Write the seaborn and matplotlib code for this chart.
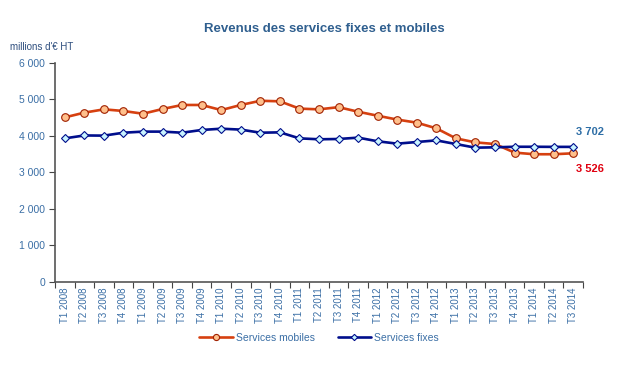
import seaborn as sns
import matplotlib.pyplot as plt
import pandas as pd

# quarterly revenue, millions of euros
quarters = ['T1 2008', 'T2 2008', 'T3 2008', 'T4 2008',
            'T1 2009', 'T2 2009', 'T3 2009', 'T4 2009',
            'T1 2010', 'T2 2010', 'T3 2010', 'T4 2010',
            'T1 2011', 'T2 2011', 'T3 2011', 'T4 2011',
            'T1 2012', 'T2 2012', 'T3 2012', 'T4 2012',
            'T1 2013', 'T2 2013', 'T3 2013', 'T4 2013',
            'T1 2014', 'T2 2014', 'T3 2014']

mobiles = [4510, 4640, 4730, 4685, 4610, 4740, 4850, 4850,
           4710, 4850, 4965, 4950, 4750, 4730, 4790, 4665,
           4555, 4450, 4365, 4210, 3935, 3825, 3780, 3545,
           3500, 3500, 3526]
fixes = [3935, 4015, 4010, 4090, 4120, 4120, 4090, 4165,
         4200, 4175, 4090, 4100, 3935, 3910, 3918, 3955,
         3855, 3790, 3835, 3880, 3780, 3680, 3690, 3705,
         3705, 3702, 3702]

df = pd.DataFrame({'trimestre': quarters, 'mobiles': mobiles, 'fixes': fixes})

sns.set_style('white')
plt.rcParams['font.family'] = ['Liberation Sans', 'DejaVu Sans']

blue_txt = '#3A6EA5'

fig = plt.figure(figsize=(6.21, 3.71), dpi=100)
ax = fig.add_axes([0.0886, 0.2399, 0.8502, 0.5903])

sns.lineplot(data=df, x='trimestre', y='mobiles', ax=ax, color='#D64010', lw=1.9,
             marker='o', markersize=5.5, markerfacecolor='#FFC08C',
             markeredgecolor='#A02000', markeredgewidth=0.8, label='Services mobiles')
sns.lineplot(data=df, x='trimestre', y='fixes', ax=ax, color='#000E8C', lw=1.9,
             marker='D', markersize=4, markerfacecolor='#C8F4FF',
             markeredgecolor='#000E8C', markeredgewidth=0.8, label='Services fixes')

ax.set_xlim(-0.5, len(quarters) - 0.5)
ax.set_ylim(0, 6000)
ax.set_yticks(range(0, 6001, 1000))
ax.set_yticklabels(['0', '1 000', '2 000', '3 000', '4 000', '5 000', '6 000'],
                   color=blue_txt, fontsize=7.5)
ax.set_xticks(range(len(quarters)))
ax.set_xticklabels(quarters, rotation=90, color=blue_txt, fontsize=7)
ax.tick_params(axis='x', length=0, pad=4)
ax.tick_params(axis='y', length=4, width=0.8, color='#444444', left=True, pad=3)
# boundary ticks between quarters
ax.set_xticks([i + 0.5 for i in range(-1, len(quarters))], minor=True)
ax.tick_params(axis='x', which='minor', length=4, width=0.8, color='#444444', bottom=True)

ax.set_xlabel('')
ax.set_ylabel('')
sns.despine(ax=ax)
for side in ['left', 'bottom']:
    ax.spines[side].set_color('#555555')
    ax.spines[side].set_linewidth(1.2)

ax.annotate('3 702', xy=(len(quarters) - 1, fixes[-1]), xytext=(12, 7),
            textcoords='offset points', color='#2E6EA6', fontsize=8, fontweight='bold',
            ha='center', va='bottom')
ax.annotate('3 526', xy=(len(quarters) - 1, mobiles[-1]), xytext=(12, -8),
            textcoords='offset points', color='#E00010', fontsize=8, fontweight='bold',
            ha='center', va='top')

fig.text(0.523, 0.922, 'Revenus des services fixes et mobiles', ha='center', va='center',
         fontsize=9.5, fontweight='bold', color='#2F5F8F')
fig.text(0.016, 0.873, "millions d'€ HT", ha='left', va='center', fontsize=7, color='#2F4F7F')

ax.legend(loc='upper center', bbox_to_anchor=(0.5, -0.19), ncol=2, frameon=False,
          fontsize=7.5, labelcolor=blue_txt, handlelength=3.2, columnspacing=2.2,
          handletextpad=0.3, markerscale=0.8)

plt.savefig('out.png', dpi=100)
